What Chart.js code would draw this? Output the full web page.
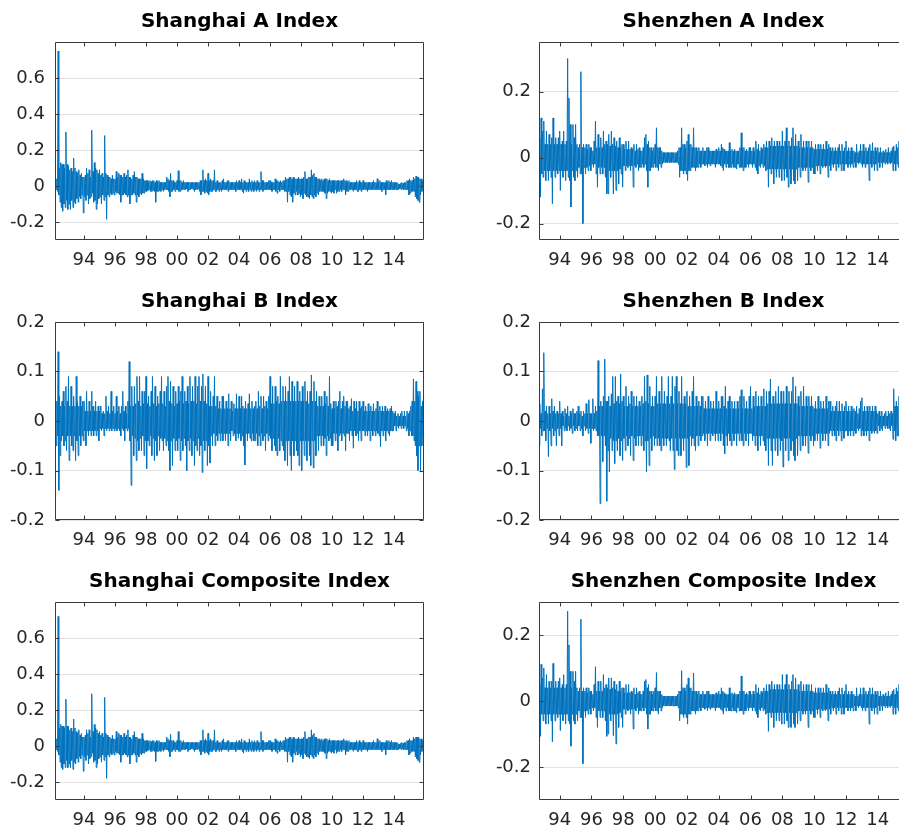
<!DOCTYPE html>
<html><head><meta charset="utf-8">
<script src="https://cdn.jsdelivr.net/npm/chart.js@4.4.1/dist/chart.umd.min.js"></script>
<style>
html,body{margin:0;padding:0;background:#fff;overflow:hidden;width:899px;height:832px;position:relative;}
canvas{position:absolute;}
</style></head><body>
<canvas id="c0" width="440" height="280" style="left:0;top:0"></canvas>
<canvas id="c1" width="440" height="280" style="left:484px;top:0"></canvas>
<canvas id="c2" width="440" height="280" style="left:0;top:280px"></canvas>
<canvas id="c3" width="440" height="280" style="left:484px;top:280px"></canvas>
<canvas id="c4" width="440" height="280" style="left:0;top:560px"></canvas>
<canvas id="c5" width="440" height="280" style="left:484px;top:560px"></canvas>
<script>
// ---- data: monthly high / low of daily returns ----
const monthStep = 1 / 12;
const shanghaiStart = 1992.083;   // Feb 1992
const shenzhenStart = 1992.667;   // Sep 1992

const xTickYears  = [1994, 1996, 1998, 2000, 2002, 2004, 2006, 2008, 2010, 2012, 2014];
const xTickLabels = ['94', '96', '98', '00', '02', '04', '06', '08', '10', '12', '14'];

const titles = ['Shanghai A Index', 'Shenzhen A Index', 'Shanghai B Index',
                'Shenzhen B Index', 'Shanghai Composite Index', 'Shenzhen Composite Index'];

const yTicksShanghaiWide = [-0.2, 0, 0.2, 0.4, 0.6];
const yTicksShenzhen     = [-0.2, 0, 0.2];
const yTicksB            = [-0.2, -0.1, 0, 0.1, 0.2];

// Shanghai A (Feb 1992 - Dec 2015)
const shanghaiAHigh = [
  0.02, 0.03, 0.04, 0.75, 0.10, 0.13, 0.12, 0.12, 0.10, 0.30, 0.12,
  0.11, 0.09, 0.10, 0.08, 0.155, 0.10, 0.08, 0.07, 0.09, 0.06, 0.07, 0.05,
  0.05, 0.06, 0.10, 0.07, 0.09, 0.05, 0.31, 0.08, 0.13, 0.10, 0.09, 0.07,
  0.09, 0.06, 0.07, 0.05, 0.28, 0.07, 0.06, 0.05, 0.05, 0.04, 0.06, 0.04,
  0.04, 0.08, 0.05, 0.07, 0.06, 0.06, 0.05, 0.07, 0.05, 0.06, 0.09, 0.05,
  0.05, 0.04, 0.06, 0.08, 0.05, 0.05, 0.04, 0.04, 0.04, 0.07, 0.04, 0.03,
  0.03, 0.03, 0.02, 0.03, 0.025, 0.03, 0.03, 0.02, 0.03, 0.025, 0.03, 0.02,
  0.02, 0.02, 0.02, 0.02, 0.05, 0.04, 0.03, 0.07, 0.03, 0.03, 0.02, 0.02,
  0.03, 0.085, 0.03, 0.03, 0.02, 0.03, 0.02, 0.02, 0.02, 0.02, 0.02, 0.02,
  0.02, 0.02, 0.02, 0.02, 0.02, 0.02, 0.03, 0.03, 0.09, 0.03, 0.04, 0.03,
  0.07, 0.03, 0.04, 0.03, 0.03, 0.09, 0.02, 0.03, 0.02, 0.02, 0.02, 0.03,
  0.04, 0.02, 0.02, 0.03, 0.03, 0.02, 0.02, 0.02, 0.02, 0.02, 0.03, 0.02,
  0.03, 0.02, 0.04, 0.02, 0.03, 0.02, 0.02, 0.02, 0.04, 0.02, 0.03, 0.02,
  0.03, 0.02, 0.03, 0.02, 0.02, 0.08, 0.03, 0.03, 0.02, 0.02, 0.02, 0.03,
  0.03, 0.02, 0.02, 0.02, 0.04, 0.03, 0.03, 0.02, 0.03, 0.02, 0.03, 0.03,
  0.05, 0.04, 0.04, 0.05, 0.05, 0.04, 0.05, 0.04, 0.04, 0.04, 0.05, 0.04,
  0.04, 0.04, 0.05, 0.08, 0.04, 0.04, 0.05, 0.05, 0.09, 0.06, 0.07, 0.05,
  0.05, 0.04, 0.04, 0.03, 0.04, 0.03, 0.04, 0.04, 0.04, 0.03, 0.04, 0.03,
  0.03, 0.03, 0.03, 0.03, 0.03, 0.03, 0.03, 0.03, 0.03, 0.04, 0.03, 0.03,
  0.02, 0.03, 0.02, 0.02, 0.02, 0.02, 0.02, 0.03, 0.02, 0.03, 0.02, 0.02,
  0.03, 0.02, 0.02, 0.02, 0.02, 0.02, 0.02, 0.02, 0.03, 0.02, 0.02, 0.04,
  0.02, 0.03, 0.02, 0.02, 0.02, 0.02, 0.03, 0.02, 0.03, 0.02, 0.03, 0.02,
  0.02, 0.02, 0.02, 0.015, 0.01, 0.015, 0.02, 0.015, 0.02, 0.02, 0.03, 0.03,
  0.04, 0.03, 0.03, 0.05, 0.04, 0.055, 0.05, 0.05, 0.04, 0.04, 0.03, 0.03
];
const shanghaiALow = [
  -0.02, -0.02, -0.03, -0.05, -0.09, -0.12, -0.14, -0.10, -0.12, -0.08, -0.13,
  -0.10, -0.13, -0.08, -0.12, -0.09, -0.10, -0.07, -0.09, -0.06, -0.07, -0.05, -0.15,
  -0.06, -0.08, -0.05, -0.10, -0.07, -0.06, -0.04, -0.09, -0.08, -0.13, -0.10, -0.07,
  -0.06, -0.10, -0.05, -0.08, -0.06, -0.185, -0.05, -0.06, -0.04, -0.05, -0.04, -0.05,
  -0.03, -0.04, -0.04, -0.05, -0.09, -0.05, -0.05, -0.04, -0.05, -0.06, -0.05, -0.10,
  -0.05, -0.05, -0.04, -0.05, -0.09, -0.05, -0.06, -0.04, -0.05, -0.04, -0.04, -0.03,
  -0.03, -0.025, -0.02, -0.03, -0.03, -0.025, -0.03, -0.09, -0.03, -0.03, -0.025, -0.03,
  -0.02, -0.03, -0.02, -0.02, -0.02, -0.03, -0.06, -0.03, -0.03, -0.02, -0.03, -0.02,
  -0.02, -0.03, -0.03, -0.02, -0.02, -0.02, -0.02, -0.015, -0.03, -0.02, -0.02, -0.015,
  -0.02, -0.03, -0.02, -0.02, -0.015, -0.03, -0.05, -0.03, -0.03, -0.04, -0.03, -0.04,
  -0.05, -0.03, -0.03, -0.03, -0.02, -0.03, -0.03, -0.02, -0.03, -0.02, -0.03, -0.02,
  -0.02, -0.02, -0.02, -0.03, -0.02, -0.02, -0.02, -0.02, -0.02, -0.03, -0.02, -0.02,
  -0.02, -0.02, -0.03, -0.04, -0.02, -0.03, -0.02, -0.03, -0.02, -0.03, -0.02, -0.03,
  -0.02, -0.03, -0.02, -0.03, -0.02, -0.02, -0.03, -0.02, -0.02, -0.02, -0.02, -0.02,
  -0.02, -0.03, -0.02, -0.02, -0.03, -0.04, -0.02, -0.03, -0.02, -0.02, -0.02, -0.03,
  -0.03, -0.09, -0.03, -0.05, -0.06, -0.09, -0.04, -0.05, -0.03, -0.05, -0.04, -0.06,
  -0.05, -0.07, -0.04, -0.05, -0.06, -0.06, -0.07, -0.05, -0.06, -0.07, -0.05, -0.06,
  -0.04, -0.05, -0.03, -0.03, -0.03, -0.03, -0.04, -0.07, -0.04, -0.03, -0.03, -0.04,
  -0.03, -0.04, -0.02, -0.04, -0.03, -0.03, -0.02, -0.03, -0.02, -0.02, -0.05, -0.03,
  -0.03, -0.02, -0.02, -0.02, -0.03, -0.02, -0.02, -0.03, -0.03, -0.02, -0.03, -0.02,
  -0.02, -0.02, -0.02, -0.03, -0.02, -0.02, -0.02, -0.02, -0.02, -0.02, -0.02, -0.02,
  -0.02, -0.02, -0.03, -0.02, -0.02, -0.05, -0.02, -0.02, -0.02, -0.02, -0.02, -0.02,
  -0.02, -0.02, -0.02, -0.02, -0.015, -0.02, -0.015, -0.02, -0.02, -0.02, -0.02, -0.05,
  -0.04, -0.03, -0.03, -0.03, -0.06, -0.07, -0.08, -0.09, -0.05, -0.03, -0.03, -0.03
];

// Shanghai Composite (Feb 1992 - Dec 2015)
const shanghaiCompHigh = [
  0.02, 0.03, 0.04, 0.72, 0.10, 0.12, 0.11, 0.11, 0.10, 0.26, 0.11,
  0.11, 0.09, 0.10, 0.08, 0.15, 0.10, 0.08, 0.07, 0.09, 0.06, 0.07, 0.05,
  0.05, 0.06, 0.09, 0.07, 0.09, 0.05, 0.29, 0.08, 0.12, 0.10, 0.09, 0.07,
  0.08, 0.06, 0.07, 0.05, 0.27, 0.07, 0.06, 0.05, 0.05, 0.04, 0.06, 0.04,
  0.04, 0.08, 0.05, 0.07, 0.06, 0.06, 0.05, 0.07, 0.05, 0.06, 0.09, 0.05,
  0.05, 0.04, 0.06, 0.08, 0.05, 0.05, 0.04, 0.04, 0.04, 0.07, 0.04, 0.03,
  0.03, 0.03, 0.02, 0.03, 0.025, 0.03, 0.03, 0.02, 0.03, 0.025, 0.03, 0.02,
  0.02, 0.02, 0.02, 0.02, 0.05, 0.04, 0.03, 0.065, 0.03, 0.03, 0.02, 0.02,
  0.03, 0.08, 0.03, 0.03, 0.02, 0.03, 0.02, 0.02, 0.02, 0.02, 0.02, 0.02,
  0.02, 0.02, 0.02, 0.02, 0.02, 0.02, 0.03, 0.03, 0.09, 0.03, 0.04, 0.03,
  0.07, 0.03, 0.04, 0.03, 0.03, 0.09, 0.02, 0.03, 0.02, 0.02, 0.02, 0.03,
  0.04, 0.02, 0.02, 0.03, 0.03, 0.02, 0.02, 0.02, 0.02, 0.02, 0.03, 0.02,
  0.03, 0.02, 0.04, 0.02, 0.03, 0.02, 0.02, 0.02, 0.04, 0.02, 0.03, 0.02,
  0.03, 0.02, 0.03, 0.02, 0.02, 0.08, 0.03, 0.03, 0.02, 0.02, 0.02, 0.03,
  0.03, 0.02, 0.02, 0.02, 0.04, 0.03, 0.03, 0.02, 0.03, 0.02, 0.03, 0.03,
  0.05, 0.04, 0.04, 0.05, 0.05, 0.04, 0.05, 0.04, 0.04, 0.04, 0.05, 0.04,
  0.04, 0.04, 0.05, 0.08, 0.04, 0.04, 0.05, 0.05, 0.09, 0.06, 0.07, 0.05,
  0.05, 0.04, 0.04, 0.03, 0.04, 0.03, 0.04, 0.04, 0.04, 0.03, 0.04, 0.03,
  0.03, 0.03, 0.03, 0.03, 0.03, 0.03, 0.03, 0.03, 0.03, 0.04, 0.03, 0.03,
  0.02, 0.03, 0.02, 0.02, 0.02, 0.02, 0.02, 0.03, 0.02, 0.03, 0.02, 0.02,
  0.03, 0.02, 0.02, 0.02, 0.02, 0.02, 0.02, 0.02, 0.03, 0.02, 0.02, 0.04,
  0.02, 0.03, 0.02, 0.02, 0.02, 0.02, 0.03, 0.02, 0.03, 0.02, 0.03, 0.02,
  0.02, 0.02, 0.02, 0.015, 0.01, 0.015, 0.02, 0.015, 0.02, 0.02, 0.03, 0.03,
  0.04, 0.03, 0.03, 0.05, 0.04, 0.05, 0.05, 0.05, 0.04, 0.04, 0.03, 0.03
];
const shanghaiCompLow = [
  -0.02, -0.02, -0.03, -0.05, -0.09, -0.12, -0.13, -0.10, -0.12, -0.08, -0.12,
  -0.10, -0.12, -0.08, -0.13, -0.09, -0.10, -0.07, -0.09, -0.06, -0.07, -0.05, -0.14,
  -0.06, -0.08, -0.05, -0.10, -0.07, -0.06, -0.04, -0.09, -0.08, -0.12, -0.10, -0.07,
  -0.06, -0.09, -0.05, -0.08, -0.06, -0.18, -0.05, -0.06, -0.04, -0.05, -0.04, -0.05,
  -0.03, -0.04, -0.04, -0.05, -0.09, -0.05, -0.05, -0.04, -0.05, -0.06, -0.05, -0.10,
  -0.05, -0.05, -0.04, -0.05, -0.09, -0.05, -0.06, -0.04, -0.05, -0.04, -0.04, -0.03,
  -0.03, -0.025, -0.02, -0.03, -0.03, -0.025, -0.03, -0.085, -0.03, -0.03, -0.025, -0.03,
  -0.02, -0.03, -0.02, -0.02, -0.02, -0.03, -0.06, -0.03, -0.03, -0.02, -0.03, -0.02,
  -0.02, -0.03, -0.03, -0.02, -0.02, -0.02, -0.02, -0.015, -0.03, -0.02, -0.02, -0.015,
  -0.02, -0.03, -0.02, -0.02, -0.015, -0.03, -0.05, -0.03, -0.03, -0.04, -0.03, -0.04,
  -0.05, -0.03, -0.03, -0.03, -0.02, -0.03, -0.03, -0.02, -0.03, -0.02, -0.03, -0.02,
  -0.02, -0.02, -0.02, -0.03, -0.02, -0.02, -0.02, -0.02, -0.02, -0.03, -0.02, -0.02,
  -0.02, -0.02, -0.03, -0.04, -0.02, -0.03, -0.02, -0.03, -0.02, -0.03, -0.02, -0.03,
  -0.02, -0.03, -0.02, -0.03, -0.02, -0.02, -0.03, -0.02, -0.02, -0.02, -0.02, -0.02,
  -0.02, -0.03, -0.02, -0.02, -0.03, -0.04, -0.02, -0.03, -0.02, -0.02, -0.02, -0.03,
  -0.03, -0.09, -0.03, -0.05, -0.06, -0.09, -0.04, -0.05, -0.03, -0.05, -0.04, -0.06,
  -0.05, -0.07, -0.04, -0.05, -0.06, -0.06, -0.07, -0.05, -0.06, -0.07, -0.05, -0.06,
  -0.04, -0.05, -0.03, -0.03, -0.03, -0.03, -0.04, -0.07, -0.04, -0.03, -0.03, -0.04,
  -0.03, -0.04, -0.02, -0.04, -0.03, -0.03, -0.02, -0.03, -0.02, -0.02, -0.05, -0.03,
  -0.03, -0.02, -0.02, -0.02, -0.03, -0.02, -0.02, -0.03, -0.03, -0.02, -0.03, -0.02,
  -0.02, -0.02, -0.02, -0.03, -0.02, -0.02, -0.02, -0.02, -0.02, -0.02, -0.02, -0.02,
  -0.02, -0.02, -0.03, -0.02, -0.02, -0.05, -0.02, -0.02, -0.02, -0.02, -0.02, -0.02,
  -0.02, -0.02, -0.02, -0.02, -0.015, -0.02, -0.015, -0.02, -0.02, -0.02, -0.02, -0.05,
  -0.04, -0.03, -0.03, -0.03, -0.06, -0.07, -0.08, -0.09, -0.05, -0.03, -0.03, -0.03
];

// Shanghai B (Feb 1992 - Dec 2015)
const shanghaiBHigh = [
  0.05, 0.03, 0.04, 0.14, 0.05, 0.03, 0.04, 0.06, 0.03, 0.07, 0.04,
  0.09, 0.03, 0.07, 0.03, 0.05, 0.03, 0.09, 0.04, 0.03, 0.05, 0.03, 0.04,
  0.04, 0.02, 0.06, 0.02, 0.04, 0.02, 0.06, 0.03, 0.02, 0.04, 0.02, 0.03,
  0.02, 0.03, 0.015, 0.02, 0.015, 0.05, 0.02, 0.03, 0.015, 0.06, 0.02, 0.03,
  0.015, 0.05, 0.02, 0.03, 0.015, 0.03, 0.06, 0.02, 0.03, 0.015, 0.04, 0.12,
  0.03, 0.07, 0.03, 0.07, 0.035, 0.09, 0.04, 0.09, 0.03, 0.06, 0.035, 0.06,
  0.09, 0.035, 0.05, 0.03, 0.06, 0.09, 0.035, 0.07, 0.03, 0.05, 0.035, 0.06,
  0.09, 0.035, 0.06, 0.03, 0.07, 0.09, 0.04, 0.08, 0.035, 0.07, 0.03, 0.06,
  0.035, 0.07, 0.04, 0.06, 0.09, 0.035, 0.06, 0.04, 0.07, 0.035, 0.09, 0.04,
  0.07, 0.04, 0.09, 0.035, 0.07, 0.09, 0.04, 0.07, 0.095, 0.04, 0.07, 0.035,
  0.09, 0.03, 0.06, 0.03, 0.05, 0.09, 0.03, 0.05, 0.025, 0.04, 0.025, 0.05,
  0.05, 0.025, 0.04, 0.025, 0.055, 0.025, 0.04, 0.02, 0.035, 0.025, 0.055, 0.025,
  0.05, 0.025, 0.05, 0.03, 0.025, 0.04, 0.025, 0.035, 0.055, 0.025, 0.04, 0.025,
  0.03, 0.04, 0.025, 0.06, 0.03, 0.05, 0.025, 0.05, 0.03, 0.04, 0.025, 0.05,
  0.09, 0.035, 0.07, 0.035, 0.07, 0.04, 0.05, 0.035, 0.09, 0.04, 0.07, 0.04,
  0.07, 0.04, 0.06, 0.09, 0.04, 0.08, 0.04, 0.07, 0.04, 0.08, 0.04, 0.06,
  0.04, 0.07, 0.04, 0.08, 0.04, 0.06, 0.035, 0.06, 0.093, 0.04, 0.08, 0.04,
  0.06, 0.03, 0.05, 0.03, 0.05, 0.03, 0.06, 0.035, 0.05, 0.03, 0.09, 0.035,
  0.025, 0.04, 0.025, 0.04, 0.03, 0.04, 0.06, 0.025, 0.04, 0.05, 0.03, 0.04,
  0.04, 0.025, 0.03, 0.045, 0.02, 0.04, 0.025, 0.04, 0.02, 0.04, 0.025, 0.03,
  0.04, 0.02, 0.03, 0.02, 0.035, 0.02, 0.03, 0.02, 0.035, 0.02, 0.025, 0.04,
  0.02, 0.03, 0.02, 0.03, 0.02, 0.03, 0.02, 0.025, 0.02, 0.025, 0.03, 0.02,
  0.015, 0.02, 0.01, 0.015, 0.01, 0.015, 0.02, 0.01, 0.02, 0.01, 0.02, 0.015,
  0.02, 0.03, 0.04, 0.085, 0.04, 0.08, 0.06, 0.05, 0.06, 0.03, 0.04, 0.035
];
const shanghaiBLow = [
  -0.03, -0.05, -0.03, -0.14, -0.07, -0.04, -0.03, -0.05, -0.04, -0.06, -0.03,
  -0.08, -0.03, -0.05, -0.06, -0.03, -0.08, -0.04, -0.07, -0.03, -0.05, -0.03, -0.04,
  -0.02, -0.05, -0.02, -0.03, -0.02, -0.03, -0.02, -0.03, -0.02, -0.03, -0.02, -0.04,
  -0.015, -0.02, -0.015, -0.03, -0.015, -0.02, -0.015, -0.02, -0.015, -0.02, -0.015, -0.02,
  -0.015, -0.02, -0.015, -0.02, -0.03, -0.015, -0.02, -0.04, -0.015, -0.02, -0.015, -0.04,
  -0.13, -0.03, -0.07, -0.035, -0.08, -0.04, -0.06, -0.035, -0.06, -0.03, -0.07, -0.04,
  -0.096, -0.04, -0.05, -0.03, -0.07, -0.035, -0.08, -0.04, -0.07, -0.03, -0.06, -0.035,
  -0.04, -0.06, -0.035, -0.05, -0.04, -0.06, -0.10, -0.04, -0.09, -0.035, -0.06, -0.04,
  -0.06, -0.035, -0.08, -0.04, -0.06, -0.035, -0.05, -0.10, -0.04, -0.06, -0.035, -0.07,
  -0.04, -0.09, -0.05, -0.06, -0.035, -0.07, -0.05, -0.104, -0.04, -0.06, -0.04, -0.09,
  -0.05, -0.085, -0.03, -0.05, -0.025, -0.05, -0.03, -0.04, -0.025, -0.04, -0.025, -0.04,
  -0.025, -0.04, -0.025, -0.05, -0.025, -0.04, -0.02, -0.03, -0.025, -0.04, -0.025, -0.035,
  -0.025, -0.04, -0.03, -0.05, -0.089, -0.025, -0.04, -0.025, -0.035, -0.04, -0.025, -0.04,
  -0.04, -0.025, -0.05, -0.03, -0.05, -0.025, -0.04, -0.03, -0.06, -0.025, -0.04, -0.03,
  -0.035, -0.06, -0.035, -0.05, -0.06, -0.07, -0.035, -0.06, -0.04, -0.05, -0.06, -0.08,
  -0.04, -0.09, -0.04, -0.07, -0.10, -0.04, -0.07, -0.04, -0.06, -0.07, -0.09, -0.04,
  -0.10, -0.04, -0.07, -0.04, -0.08, -0.04, -0.07, -0.09, -0.04, -0.095, -0.04, -0.07,
  -0.03, -0.06, -0.03, -0.05, -0.03, -0.05, -0.035, -0.07, -0.03, -0.04, -0.035, -0.05,
  -0.05, -0.025, -0.04, -0.025, -0.06, -0.03, -0.025, -0.04, -0.025, -0.03, -0.06, -0.025,
  -0.025, -0.04, -0.02, -0.03, -0.055, -0.02, -0.03, -0.025, -0.04, -0.02, -0.04, -0.02,
  -0.02, -0.03, -0.02, -0.03, -0.02, -0.04, -0.02, -0.03, -0.02, -0.03, -0.02, -0.025,
  -0.03, -0.052, -0.02, -0.03, -0.02, -0.04, -0.02, -0.025, -0.03, -0.02, -0.02, -0.02,
  -0.01, -0.02, -0.01, -0.015, -0.01, -0.015, -0.01, -0.015, -0.01, -0.02, -0.015, -0.03,
  -0.02, -0.03, -0.03, -0.04, -0.05, -0.07, -0.10, -0.05, -0.10, -0.05, -0.03, -0.04
];

// Shenzhen A (Sep 1992 - Dec 2015)
const shenzhenAHigh = [
  0.09, 0.06, 0.12, 0.08,
  0.11, 0.04, 0.08, 0.04, 0.07, 0.04, 0.06, 0.12, 0.04, 0.06, 0.04, 0.06,
  0.08, 0.04, 0.05, 0.08, 0.04, 0.05, 0.30, 0.18, 0.10, 0.04, 0.10, 0.06,
  0.10, 0.04, 0.03, 0.04, 0.26, 0.03, 0.04, 0.03, 0.04, 0.025, 0.04, 0.03,
  0.03, 0.02, 0.05, 0.11, 0.03, 0.07, 0.03, 0.06, 0.03, 0.08, 0.04, 0.05,
  0.04, 0.07, 0.035, 0.08, 0.04, 0.06, 0.035, 0.05, 0.03, 0.06, 0.03, 0.04,
  0.04, 0.025, 0.05, 0.025, 0.05, 0.025, 0.03, 0.025, 0.04, 0.02, 0.04, 0.025,
  0.03, 0.02, 0.02, 0.03, 0.06, 0.07, 0.04, 0.05, 0.03, 0.03, 0.02, 0.03,
  0.04, 0.09, 0.03, 0.03, 0.03, 0.02, 0.015, 0.015, 0.015, 0.015, 0.015, 0.015,
  0.015, 0.015, 0.015, 0.015, 0.015, 0.02, 0.03, 0.03, 0.09, 0.04, 0.04, 0.03,
  0.05, 0.07, 0.04, 0.04, 0.03, 0.09, 0.03, 0.03, 0.02, 0.03, 0.02, 0.02,
  0.03, 0.02, 0.02, 0.03, 0.03, 0.02, 0.02, 0.02, 0.02, 0.02, 0.025, 0.02,
  0.03, 0.02, 0.04, 0.03, 0.025, 0.02, 0.02, 0.02, 0.045, 0.02, 0.025, 0.02,
  0.025, 0.02, 0.02, 0.02, 0.03, 0.075, 0.03, 0.03, 0.02, 0.025, 0.02, 0.03,
  0.03, 0.02, 0.03, 0.02, 0.05, 0.025, 0.04, 0.02, 0.03, 0.025, 0.04, 0.03,
  0.05, 0.03, 0.05, 0.035, 0.06, 0.035, 0.05, 0.035, 0.05, 0.035, 0.05, 0.035,
  0.08, 0.035, 0.05, 0.09, 0.035, 0.05, 0.035, 0.06, 0.09, 0.035, 0.07, 0.035,
  0.05, 0.03, 0.07, 0.03, 0.05, 0.03, 0.05, 0.03, 0.05, 0.03, 0.05, 0.03,
  0.025, 0.04, 0.025, 0.04, 0.025, 0.04, 0.025, 0.04, 0.025, 0.05, 0.025, 0.04,
  0.03, 0.02, 0.03, 0.02, 0.03, 0.02, 0.03, 0.04, 0.02, 0.04, 0.02, 0.03,
  0.05, 0.02, 0.03, 0.02, 0.03, 0.02, 0.02, 0.015, 0.04, 0.015, 0.02, 0.04,
  0.02, 0.04, 0.02, 0.03, 0.02, 0.03, 0.04, 0.02, 0.045, 0.02, 0.03, 0.02,
  0.03, 0.015, 0.03, 0.015, 0.02, 0.015, 0.025, 0.015, 0.03, 0.015, 0.02, 0.03,
  0.035, 0.02, 0.04, 0.03, 0.05, 0.04, 0.06, 0.04, 0.05, 0.03, 0.04, 0.03
];
const shenzhenALow = [
  -0.10, -0.12, -0.05, -0.06,
  -0.04, -0.07, -0.04, -0.07, -0.04, -0.06, -0.14, -0.04, -0.06, -0.04, -0.05, -0.04,
  -0.10, -0.04, -0.06, -0.04, -0.07, -0.04, -0.06, -0.07, -0.15, -0.04, -0.06, -0.07,
  -0.04, -0.06, -0.03, -0.05, -0.05, -0.20, -0.03, -0.05, -0.03, -0.04, -0.025, -0.04,
  -0.02, -0.03, -0.02, -0.05, -0.09, -0.03, -0.05, -0.03, -0.05, -0.03, -0.06, -0.11,
  -0.11, -0.04, -0.06, -0.04, -0.11, -0.04, -0.10, -0.04, -0.08, -0.035, -0.05, -0.09,
  -0.025, -0.04, -0.025, -0.03, -0.025, -0.04, -0.025, -0.09, -0.025, -0.03, -0.02, -0.04,
  -0.03, -0.03, -0.02, -0.03, -0.02, -0.04, -0.09, -0.04, -0.04, -0.03, -0.03, -0.02,
  -0.03, -0.03, -0.04, -0.02, -0.03, -0.02, -0.015, -0.015, -0.015, -0.015, -0.015, -0.015,
  -0.015, -0.015, -0.015, -0.015, -0.015, -0.02, -0.06, -0.04, -0.04, -0.05, -0.04, -0.05,
  -0.07, -0.04, -0.04, -0.03, -0.03, -0.03, -0.04, -0.03, -0.03, -0.02, -0.03, -0.02,
  -0.02, -0.025, -0.02, -0.03, -0.02, -0.025, -0.02, -0.02, -0.02, -0.03, -0.02, -0.02,
  -0.02, -0.025, -0.03, -0.04, -0.02, -0.03, -0.02, -0.03, -0.03, -0.03, -0.02, -0.03,
  -0.03, -0.035, -0.02, -0.03, -0.03, -0.03, -0.04, -0.03, -0.03, -0.02, -0.03, -0.02,
  -0.02, -0.03, -0.02, -0.03, -0.04, -0.05, -0.025, -0.03, -0.02, -0.03, -0.025, -0.04,
  -0.035, -0.09, -0.035, -0.05, -0.035, -0.08, -0.035, -0.06, -0.035, -0.06, -0.035, -0.07,
  -0.035, -0.07, -0.035, -0.06, -0.09, -0.035, -0.08, -0.035, -0.07, -0.08, -0.035, -0.07,
  -0.03, -0.06, -0.03, -0.04, -0.03, -0.04, -0.03, -0.075, -0.03, -0.04, -0.03, -0.05,
  -0.05, -0.025, -0.04, -0.025, -0.05, -0.025, -0.03, -0.025, -0.03, -0.025, -0.06, -0.025,
  -0.04, -0.02, -0.03, -0.02, -0.04, -0.02, -0.03, -0.02, -0.04, -0.02, -0.04, -0.02,
  -0.02, -0.03, -0.02, -0.03, -0.02, -0.03, -0.015, -0.03, -0.015, -0.02, -0.015, -0.02,
  -0.03, -0.02, -0.03, -0.02, -0.02, -0.07, -0.02, -0.03, -0.02, -0.04, -0.02, -0.04,
  -0.015, -0.03, -0.015, -0.03, -0.015, -0.02, -0.015, -0.02, -0.015, -0.02, -0.015, -0.04,
  -0.02, -0.04, -0.02, -0.03, -0.05, -0.08, -0.04, -0.08, -0.03, -0.03, -0.02, -0.03
];

// Shenzhen B (Sep 1992 - Dec 2015)
const shenzhenBHigh = [
  0.02, 0.035, 0.015, 0.065,
  0.138, 0.02, 0.03, 0.015, 0.03, 0.015, 0.045, 0.02, 0.03, 0.015, 0.02, 0.015,
  0.04, 0.015, 0.02, 0.01, 0.025, 0.015, 0.03, 0.01, 0.02, 0.015, 0.025, 0.015,
  0.015, 0.02, 0.03, 0.015, 0.02, 0.01, 0.02, 0.015, 0.035, 0.015, 0.043, 0.015,
  0.015, 0.045, 0.015, 0.03, 0.02, 0.122, 0.03, 0.04, 0.03, 0.05, 0.125, 0.04,
  0.04, 0.05, 0.03, 0.055, 0.09, 0.035, 0.09, 0.04, 0.05, 0.035, 0.095, 0.04,
  0.05, 0.03, 0.07, 0.03, 0.05, 0.035, 0.06, 0.03, 0.05, 0.03, 0.05, 0.03,
  0.04, 0.03, 0.05, 0.035, 0.09, 0.04, 0.093, 0.035, 0.07, 0.03, 0.05, 0.03,
  0.05, 0.09, 0.035, 0.06, 0.035, 0.09, 0.035, 0.06, 0.035, 0.05, 0.09, 0.035,
  0.05, 0.09, 0.035, 0.07, 0.09, 0.035, 0.06, 0.035, 0.09, 0.035, 0.05, 0.035,
  0.06, 0.03, 0.05, 0.03, 0.06, 0.09, 0.03, 0.05, 0.03, 0.04, 0.03, 0.05,
  0.05, 0.025, 0.04, 0.025, 0.05, 0.025, 0.04, 0.025, 0.04, 0.025, 0.06, 0.025,
  0.04, 0.025, 0.05, 0.05, 0.03, 0.07, 0.025, 0.04, 0.05, 0.025, 0.04, 0.025,
  0.04, 0.025, 0.04, 0.025, 0.05, 0.063, 0.025, 0.05, 0.025, 0.04, 0.025, 0.05,
  0.07, 0.025, 0.05, 0.03, 0.06, 0.03, 0.05, 0.03, 0.05, 0.03, 0.065, 0.03,
  0.06, 0.035, 0.06, 0.085, 0.035, 0.05, 0.035, 0.06, 0.035, 0.07, 0.035, 0.06,
  0.035, 0.06, 0.035, 0.07, 0.035, 0.06, 0.035, 0.06, 0.089, 0.035, 0.07, 0.035,
  0.05, 0.03, 0.06, 0.03, 0.07, 0.03, 0.05, 0.03, 0.05, 0.03, 0.05, 0.03,
  0.025, 0.04, 0.025, 0.05, 0.025, 0.04, 0.025, 0.04, 0.025, 0.05, 0.025, 0.04,
  0.04, 0.02, 0.03, 0.02, 0.03, 0.04, 0.02, 0.04, 0.02, 0.035, 0.02, 0.03,
  0.04, 0.02, 0.03, 0.02, 0.03, 0.02, 0.025, 0.02, 0.03, 0.015, 0.025, 0.04,
  0.047, 0.02, 0.03, 0.02, 0.03, 0.02, 0.03, 0.02, 0.03, 0.02, 0.03, 0.02,
  0.015, 0.02, 0.01, 0.02, 0.01, 0.015, 0.02, 0.01, 0.02, 0.015, 0.02, 0.015,
  0.065, 0.03, 0.04, 0.03, 0.05, 0.04, 0.05, 0.04, 0.04, 0.03, 0.03, 0.03
];
const shenzhenBLow = [
  -0.05, -0.015, -0.03, -0.02,
  -0.02, -0.04, -0.015, -0.072, -0.02, -0.05, -0.015, -0.03, -0.02, -0.05, -0.015, -0.03,
  -0.015, -0.05, -0.01, -0.02, -0.015, -0.02, -0.01, -0.02, -0.015, -0.025, -0.01, -0.02,
  -0.015, -0.02, -0.01, -0.02, -0.015, -0.03, -0.01, -0.02, -0.015, -0.025, -0.015, -0.045,
  -0.015, -0.02, -0.015, -0.02, -0.03, -0.03, -0.167, -0.03, -0.082, -0.03, -0.05, -0.162,
  -0.06, -0.103, -0.035, -0.06, -0.04, -0.086, -0.04, -0.06, -0.035, -0.07, -0.04, -0.08,
  -0.035, -0.06, -0.03, -0.05, -0.035, -0.07, -0.03, -0.08, -0.035, -0.05, -0.03, -0.05,
  -0.03, -0.05, -0.03, -0.06, -0.04, -0.103, -0.04, -0.09, -0.035, -0.06, -0.03, -0.05,
  -0.035, -0.05, -0.035, -0.05, -0.06, -0.035, -0.05, -0.035, -0.05, -0.035, -0.04, -0.06,
  -0.035, -0.06, -0.098, -0.035, -0.06, -0.07, -0.035, -0.07, -0.035, -0.06, -0.035, -0.094,
  -0.035, -0.09, -0.03, -0.05, -0.035, -0.05, -0.06, -0.03, -0.05, -0.03, -0.04, -0.03,
  -0.025, -0.04, -0.025, -0.05, -0.025, -0.04, -0.025, -0.03, -0.025, -0.04, -0.025, -0.04,
  -0.025, -0.04, -0.025, -0.05, -0.066, -0.03, -0.05, -0.025, -0.04, -0.05, -0.025, -0.04,
  -0.025, -0.05, -0.025, -0.04, -0.025, -0.04, -0.05, -0.025, -0.04, -0.025, -0.05, -0.025,
  -0.025, -0.04, -0.03, -0.05, -0.03, -0.06, -0.03, -0.05, -0.03, -0.04, -0.05, -0.06,
  -0.035, -0.09, -0.035, -0.06, -0.09, -0.035, -0.06, -0.035, -0.07, -0.035, -0.06, -0.04,
  -0.093, -0.035, -0.06, -0.035, -0.08, -0.035, -0.06, -0.04, -0.07, -0.08, -0.035, -0.07,
  -0.03, -0.06, -0.03, -0.05, -0.03, -0.05, -0.03, -0.065, -0.03, -0.04, -0.03, -0.05,
  -0.04, -0.025, -0.04, -0.025, -0.055, -0.025, -0.04, -0.025, -0.04, -0.025, -0.05, -0.025,
  -0.02, -0.03, -0.02, -0.03, -0.04, -0.02, -0.03, -0.02, -0.04, -0.02, -0.035, -0.02,
  -0.02, -0.03, -0.02, -0.03, -0.02, -0.03, -0.02, -0.025, -0.015, -0.02, -0.015, -0.03,
  -0.02, -0.03, -0.02, -0.03, -0.02, -0.04, -0.02, -0.025, -0.02, -0.025, -0.02, -0.025,
  -0.01, -0.02, -0.015, -0.02, -0.01, -0.015, -0.01, -0.015, -0.015, -0.02, -0.01, -0.037,
  -0.02, -0.04, -0.03, -0.03, -0.04, -0.07, -0.04, -0.07, -0.03, -0.03, -0.03, -0.03
];

// Shenzhen Composite (Sep 1992 - Dec 2015)
const shenzhenCompHigh = [
  0.08, 0.05, 0.111, 0.07,
  0.10, 0.04, 0.08, 0.04, 0.06, 0.04, 0.06, 0.114, 0.04, 0.06, 0.04, 0.06,
  0.07, 0.04, 0.05, 0.08, 0.04, 0.05, 0.272, 0.17, 0.09, 0.04, 0.09, 0.06,
  0.09, 0.04, 0.03, 0.04, 0.248, 0.03, 0.04, 0.03, 0.04, 0.025, 0.04, 0.03,
  0.03, 0.02, 0.05, 0.104, 0.03, 0.06, 0.03, 0.06, 0.03, 0.08, 0.04, 0.05,
  0.04, 0.07, 0.035, 0.07, 0.04, 0.06, 0.035, 0.05, 0.03, 0.06, 0.03, 0.04,
  0.04, 0.025, 0.05, 0.025, 0.05, 0.025, 0.03, 0.025, 0.04, 0.02, 0.04, 0.025,
  0.03, 0.02, 0.02, 0.03, 0.06, 0.065, 0.04, 0.05, 0.03, 0.03, 0.02, 0.03,
  0.04, 0.086, 0.03, 0.03, 0.03, 0.02, 0.015, 0.015, 0.015, 0.015, 0.015, 0.015,
  0.015, 0.015, 0.015, 0.015, 0.015, 0.02, 0.03, 0.03, 0.092, 0.04, 0.04, 0.03,
  0.05, 0.07, 0.04, 0.04, 0.03, 0.085, 0.03, 0.03, 0.02, 0.03, 0.02, 0.02,
  0.03, 0.02, 0.02, 0.03, 0.03, 0.02, 0.02, 0.02, 0.02, 0.02, 0.025, 0.02,
  0.03, 0.02, 0.04, 0.03, 0.025, 0.02, 0.02, 0.02, 0.04, 0.02, 0.025, 0.02,
  0.025, 0.02, 0.02, 0.02, 0.03, 0.076, 0.03, 0.03, 0.02, 0.025, 0.02, 0.03,
  0.03, 0.02, 0.03, 0.02, 0.05, 0.025, 0.04, 0.02, 0.03, 0.025, 0.04, 0.03,
  0.05, 0.03, 0.05, 0.035, 0.06, 0.035, 0.05, 0.035, 0.05, 0.035, 0.05, 0.035,
  0.08, 0.035, 0.05, 0.08, 0.035, 0.05, 0.035, 0.06, 0.08, 0.035, 0.07, 0.035,
  0.05, 0.03, 0.06, 0.03, 0.05, 0.03, 0.05, 0.03, 0.05, 0.03, 0.05, 0.03,
  0.025, 0.04, 0.025, 0.04, 0.025, 0.04, 0.025, 0.04, 0.025, 0.05, 0.025, 0.04,
  0.03, 0.02, 0.03, 0.02, 0.03, 0.02, 0.03, 0.04, 0.02, 0.04, 0.02, 0.03,
  0.05, 0.02, 0.03, 0.02, 0.03, 0.02, 0.02, 0.015, 0.04, 0.015, 0.02, 0.04,
  0.02, 0.04, 0.02, 0.03, 0.02, 0.03, 0.04, 0.02, 0.04, 0.02, 0.03, 0.02,
  0.03, 0.015, 0.03, 0.015, 0.02, 0.015, 0.025, 0.015, 0.03, 0.015, 0.02, 0.03,
  0.035, 0.02, 0.04, 0.03, 0.05, 0.04, 0.06, 0.04, 0.05, 0.03, 0.04, 0.03
];
const shenzhenCompLow = [
  -0.09, -0.107, -0.04, -0.06,
  -0.04, -0.07, -0.04, -0.07, -0.04, -0.06, -0.124, -0.04, -0.06, -0.04, -0.05, -0.04,
  -0.09, -0.04, -0.06, -0.04, -0.07, -0.04, -0.06, -0.07, -0.137, -0.04, -0.06, -0.07,
  -0.04, -0.06, -0.03, -0.05, -0.05, -0.19, -0.03, -0.05, -0.03, -0.04, -0.025, -0.04,
  -0.02, -0.03, -0.02, -0.05, -0.08, -0.03, -0.05, -0.03, -0.05, -0.03, -0.06, -0.107,
  -0.10, -0.04, -0.06, -0.04, -0.105, -0.04, -0.13, -0.04, -0.08, -0.035, -0.05, -0.08,
  -0.025, -0.04, -0.025, -0.03, -0.025, -0.04, -0.025, -0.085, -0.025, -0.03, -0.02, -0.04,
  -0.03, -0.03, -0.02, -0.03, -0.02, -0.04, -0.085, -0.04, -0.04, -0.03, -0.03, -0.02,
  -0.03, -0.03, -0.04, -0.02, -0.03, -0.02, -0.015, -0.015, -0.015, -0.015, -0.015, -0.015,
  -0.015, -0.015, -0.015, -0.015, -0.015, -0.02, -0.06, -0.04, -0.04, -0.05, -0.04, -0.05,
  -0.07, -0.04, -0.04, -0.03, -0.03, -0.03, -0.04, -0.03, -0.03, -0.02, -0.03, -0.02,
  -0.02, -0.025, -0.02, -0.03, -0.02, -0.025, -0.02, -0.02, -0.02, -0.03, -0.02, -0.02,
  -0.02, -0.025, -0.03, -0.04, -0.02, -0.03, -0.02, -0.03, -0.03, -0.03, -0.02, -0.03,
  -0.03, -0.035, -0.02, -0.03, -0.03, -0.03, -0.04, -0.03, -0.03, -0.02, -0.03, -0.02,
  -0.02, -0.03, -0.02, -0.03, -0.04, -0.05, -0.025, -0.03, -0.02, -0.03, -0.025, -0.04,
  -0.035, -0.092, -0.035, -0.05, -0.035, -0.08, -0.035, -0.06, -0.035, -0.06, -0.035, -0.07,
  -0.035, -0.07, -0.035, -0.06, -0.08, -0.035, -0.08, -0.035, -0.07, -0.08, -0.035, -0.07,
  -0.03, -0.06, -0.03, -0.04, -0.03, -0.04, -0.03, -0.08, -0.03, -0.04, -0.03, -0.05,
  -0.05, -0.025, -0.04, -0.025, -0.05, -0.025, -0.03, -0.025, -0.03, -0.025, -0.06, -0.025,
  -0.04, -0.02, -0.03, -0.02, -0.04, -0.02, -0.03, -0.02, -0.04, -0.02, -0.04, -0.02,
  -0.02, -0.03, -0.02, -0.03, -0.02, -0.03, -0.015, -0.03, -0.015, -0.02, -0.015, -0.02,
  -0.03, -0.02, -0.03, -0.02, -0.02, -0.07, -0.02, -0.03, -0.02, -0.04, -0.02, -0.04,
  -0.015, -0.03, -0.015, -0.03, -0.015, -0.02, -0.015, -0.02, -0.015, -0.02, -0.015, -0.04,
  -0.02, -0.04, -0.02, -0.03, -0.05, -0.08, -0.04, -0.08, -0.03, -0.03, -0.02, -0.03
];

// ---- styling ----
const lineColor = '#0072BD';
const axisColor = '#3a3a3a';
const gridColor = '#e2e2e2';
const textColor = '#262626';
const fontFamily = "'DejaVu Sans', 'Liberation Sans', Arial, sans-serif";

Chart.defaults.font.family = fontFamily;

const framePlugin = {
  id: 'frame',
  afterDatasetsDraw(chart) {
    const { ctx, chartArea: a, scales } = chart;
    const L = Math.round(a.left) + 0.5, R = Math.round(a.right) - 0.5;
    const T = Math.round(a.top) + 0.5, B = Math.round(a.bottom) - 0.5;
    const tl = 4;
    ctx.save();
    ctx.strokeStyle = axisColor;
    ctx.lineWidth = 1;
    ctx.beginPath();
    ctx.rect(L, T, R - L, B - T);
    scales.x.ticks.forEach(t => {
      const p = Math.round(scales.x.getPixelForValue(t.value)) + 0.5;
      ctx.moveTo(p, B); ctx.lineTo(p, B - tl);
      ctx.moveTo(p, T); ctx.lineTo(p, T + tl);
    });
    scales.y.ticks.forEach(t => {
      const p = Math.round(scales.y.getPixelForValue(t.value)) + 0.5;
      ctx.moveTo(L, p); ctx.lineTo(L + tl, p);
      ctx.moveTo(R, p); ctx.lineTo(R - tl, p);
    });
    ctx.stroke();
    ctx.restore();
  }
};

// each month contributes its high then its low, half a month apart
function monthlyPoints(start, highs, lows) {
  const pts = [];
  highs.forEach((h, i) => {
    pts.push({ x: start + i * monthStep, y: h });
    pts.push({ x: start + (i + 0.5) * monthStep, y: lows[i] });
  });
  return pts;
}

function makeChart(id, title, start, highs, lows, xMin, xMax, yMin, yMax, yTicks, yPad) {
  return new Chart(document.getElementById(id), {
    type: 'line',
    data: { datasets: [{ data: monthlyPoints(start, highs, lows), borderColor: lineColor,
                         borderWidth: 1, pointRadius: 0, fill: false, tension: 0 }] },
    options: {
      responsive: false, animation: false, devicePixelRatio: 1, events: [],
      layout: { padding: { left: 0, right: 16, top: 0, bottom: 0 } },
      plugins: {
        legend: { display: false }, tooltip: { enabled: false },
        title: { display: true, text: title, fullSize: false, color: '#000',
                 font: { family: fontFamily, size: 20, weight: 'bold' },
                 padding: { top: 10, bottom: 8 } }
      },
      scales: {
        x: {
          type: 'linear', min: xMin, max: xMax,
          afterBuildTicks: s => { s.ticks = xTickYears.map(v => ({ value: v })); },
          afterFit: s => { s.height = 40; },
          ticks: { callback: (v, i) => xTickLabels[i], color: textColor,
                   font: { size: 18 }, padding: 10, maxRotation: 0, autoSkip: false },
          grid: { display: false, drawTicks: false },
          border: { display: false }
        },
        y: {
          type: 'linear', min: yMin, max: yMax,
          afterBuildTicks: s => { s.ticks = yTicks.map(v => ({ value: v })); },
          afterFit: s => { s.width = 55; },
          ticks: { callback: v => String(v), color: textColor,
                   font: { size: 18 }, padding: yPad, autoSkip: false },
          grid: { color: gridColor, lineWidth: 1, drawTicks: false },
          border: { display: false }
        }
      }
    },
    plugins: [framePlugin]
  });
}

makeChart('c0', titles[0], shanghaiStart, shanghaiAHigh, shanghaiALow, 1992.13, 2015.93, -0.3, 0.8, yTicksShanghaiWide, 10);
makeChart('c1', titles[1], shenzhenStart, shenzhenAHigh, shenzhenALow, 1992.70, 2015.9, -0.25, 0.35, yTicksShenzhen, 8);
makeChart('c2', titles[2], shanghaiStart, shanghaiBHigh, shanghaiBLow, 1992.13, 2015.93, -0.2, 0.2, yTicksB, 10);
makeChart('c3', titles[3], shenzhenStart, shenzhenBHigh, shenzhenBLow, 1992.70, 2015.9, -0.2, 0.2, yTicksB, 8);
makeChart('c4', titles[4], shanghaiStart, shanghaiCompHigh, shanghaiCompLow, 1992.13, 2015.93, -0.3, 0.8, yTicksShanghaiWide, 10);
makeChart('c5', titles[5], shenzhenStart, shenzhenCompHigh, shenzhenCompLow, 1992.70, 2015.9, -0.3, 0.3, yTicksShenzhen, 8);
</script>
</body></html>
